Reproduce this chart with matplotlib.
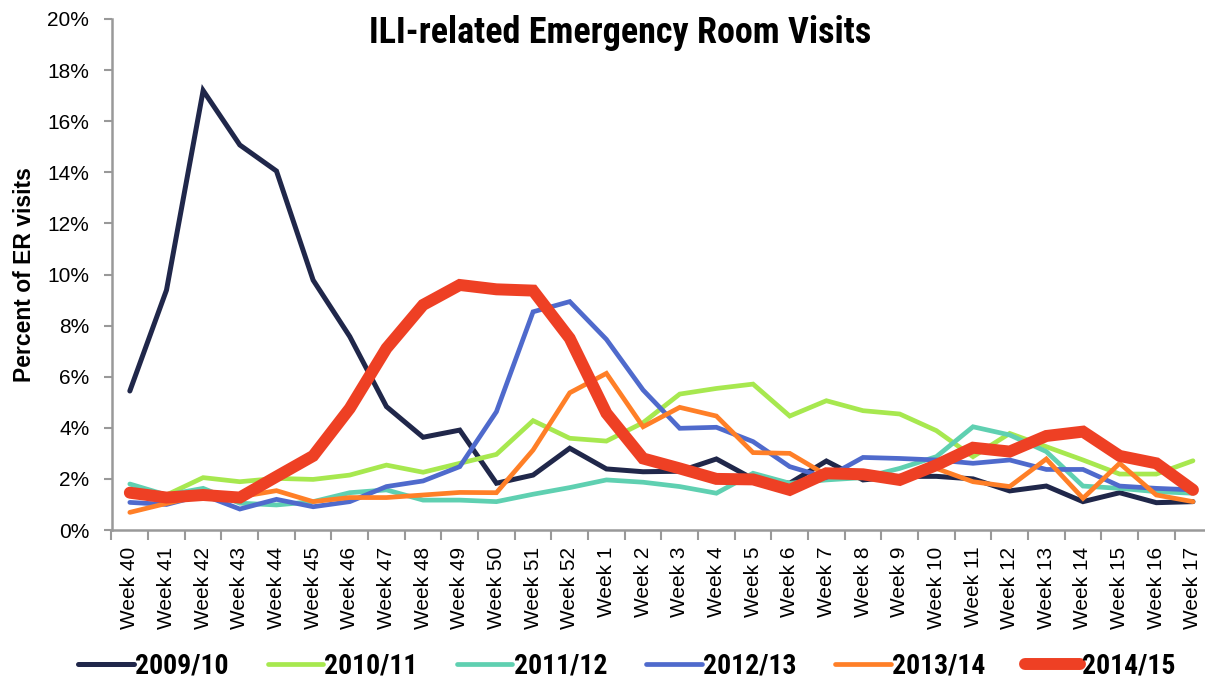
import matplotlib
matplotlib.use("Agg")
import matplotlib.pyplot as plt
from matplotlib import font_manager
import numpy as np

weeks = ["Week 40", "Week 41", "Week 42", "Week 43", "Week 44", "Week 45", "Week 46",
         "Week 47", "Week 48", "Week 49", "Week 50", "Week 51", "Week 52", "Week 1",
         "Week 2", "Week 3", "Week 4", "Week 5", "Week 6", "Week 7", "Week 8", "Week 9",
         "Week 10", "Week 11", "Week 12", "Week 13", "Week 14", "Week 15", "Week 16", "Week 17"]

s2009 = [5.44, 9.39, 17.2, 15.07, 14.05, 9.78, 7.57, 4.83, 3.63, 3.91, 1.83, 2.15, 3.2, 2.39,
         2.28, 2.3, 2.78, 2.0, 1.83, 2.7, 1.96, 2.1, 2.1, 2.0, 1.53, 1.72, 1.11, 1.46, 1.07, 1.11]
s2010 = [1.4, 1.37, 2.05, 1.89, 2.02, 1.98, 2.15, 2.54, 2.26, 2.61, 2.96, 4.28, 3.59, 3.48,
         4.2, 5.32, 5.54, 5.71, 4.46, 5.06, 4.67, 4.54, 3.89, 2.87, 3.78, 3.26, 2.74, 2.19, 2.19, 2.71]
s2011 = [1.8, 1.37, 1.63, 1.05, 0.98, 1.11, 1.46, 1.57, 1.17, 1.17, 1.11, 1.40, 1.66, 1.96,
         1.87, 1.70, 1.44, 2.22, 1.83, 1.96, 2.05, 2.41, 2.87, 4.04, 3.72, 3.07, 1.72, 1.63, 1.5, 1.44]
s2012 = [1.08, 1.0, 1.37, 0.82, 1.2, 0.91, 1.11, 1.70, 1.92, 2.48, 4.63, 8.54, 8.94, 7.46,
         5.48, 3.98, 4.02, 3.46, 2.48, 2.05, 2.84, 2.8, 2.74, 2.61, 2.74, 2.37, 2.37, 1.72, 1.63, 1.57]
s2013 = [0.69, 1.04, 1.37, 1.3, 1.54, 1.11, 1.27, 1.27, 1.37, 1.47, 1.46, 3.13, 5.37, 6.13,
         4.04, 4.8, 4.46, 3.03, 3.0, 2.15, 2.09, 2.0, 2.41, 1.89, 1.70, 2.78, 1.24, 2.61, 1.37, 1.11]
s2014 = [1.46, 1.27, 1.37, 1.27, 2.09, 2.9, 4.76, 7.11, 8.81, 9.59, 9.42, 9.37, 7.5, 4.57,
         2.8, 2.41, 2.0, 1.98, 1.57, 2.22, 2.18, 1.96, 2.54, 3.22, 3.07, 3.68, 3.85, 2.9, 2.61, 1.57]

seasons = ["2009/10", "2010/11", "2011/12", "2012/13", "2013/14", "2014/15"]
series = [s2009, s2010, s2011, s2012, s2013, s2014]
colors = ["#20274A", "#A7E84F", "#5FD0B1", "#4F6ACC", "#FF7F27", "#EE4024"]
widths = [3.6, 3.4, 3.4, 3.4, 3.4, 8.6]

yticks = [0, 2, 4, 6, 8, 10, 12, 14, 16, 18, 20]

fams = {f.name for f in font_manager.fontManager.ttflist}
narrow = "Liberation Sans Narrow" if "Liberation Sans Narrow" in fams else "Roboto Condensed" if "Roboto Condensed" in fams else "Liberation Sans"

plt.rcParams['font.family'] = ['Liberation Sans', 'DejaVu Sans']

fig = plt.figure(figsize=(12.05, 6.85), dpi=100)
ax = fig.add_axes([111.5 / 1205, 1 - 530 / 685, 1099.8 / 1205, 511 / 685])

x = np.arange(len(weeks))
for i, (name, vals, c, lw) in enumerate(zip(seasons, series, colors, widths)):
    ax.plot(x, vals, color=c, lw=lw, label=name, zorder=2 + i,
            solid_capstyle='round', solid_joinstyle='miter')

ax.set_xlim(-0.5, len(weeks) - 0.5)
ax.set_ylim(0, 20)
ax.set_yticks(yticks)
ax.set_yticklabels([f"{v}%" for v in yticks], fontsize=15)
ax.set_xticks(x)
ax.set_xticklabels(weeks, rotation=90, fontsize=15)
ax.set_xticks(np.arange(len(weeks) + 1) - 0.5, minor=True)
ax.tick_params(axis='x', which='major', length=0, pad=12)
ax.tick_params(axis='x', which='minor', length=7, width=1.5, color='#999999')
ax.tick_params(axis='y', length=6, width=1.5, color='#999999', pad=10)

for sp in ['top', 'right']:
    ax.spines[sp].set_visible(False)
for sp in ['left', 'bottom']:
    ax.spines[sp].set_color('#999999')
    ax.spines[sp].set_linewidth(1.8)

ax.set_ylabel("Percent of ER visits", fontsize=16.5, fontweight='bold', labelpad=8)
fig.text(0.515, 0.952, "ILI-related Emergency Room Visits", ha='center', va='center',
         fontsize=26, fontweight='bold', family=narrow)

leg = fig.legend(loc='center', bbox_to_anchor=(0.52, 0.028), ncol=6, frameon=False,
                 prop={'family': narrow, 'weight': 'bold', 'size': 20},
                 handlelength=2.0, handletextpad=0.05, columnspacing=1.4,
                 borderpad=0, borderaxespad=0)

fig.savefig("out.png", dpi=100)
